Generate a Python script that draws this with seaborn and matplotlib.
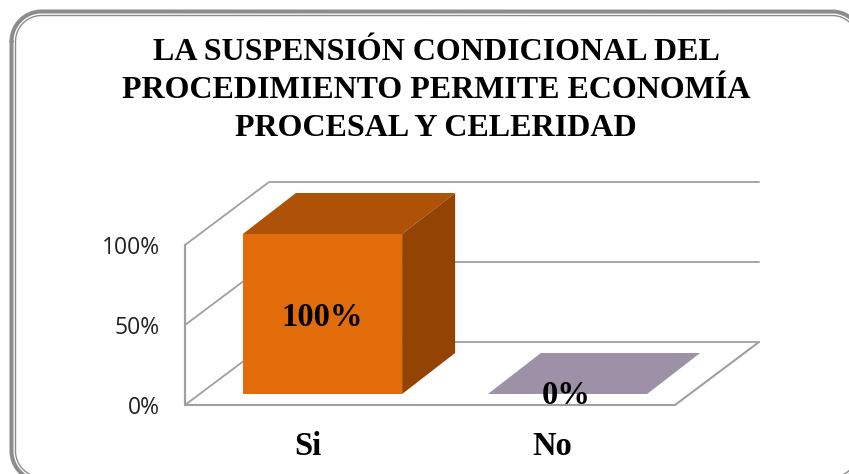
import matplotlib
matplotlib.use("Agg")
import matplotlib.pyplot as plt
from matplotlib.patches import Polygon
from matplotlib.transforms import Affine2D
import numpy as np
import seaborn as sns

categories = ["Si", "No"]
values = [100, 0]
value_labels = ["100%", "0%"]
y_ticks = [0, 50, 100]
y_tick_labels = ["0%", "50%", "100%"]
title = "LA SUSPENSIÓN CONDICIONAL DEL\nPROCEDIMIENTO PERMITE ECONOMÍA\nPROCESAL Y CELERIDAD"

W, H = 849, 474
GRID = "#A0A0A0"
FRAME = "#8C8C8C"
SERIF = "Liberation Serif"


def rounded_outline(x0, y0, x1, y1, r):
    # closed outline with circular corners, in pixels
    t = np.linspace(0, np.pi / 2, 40)
    xs = np.concatenate([x0 + r - r * np.cos(t), x1 - r + r * np.sin(t),
                         x1 - r + r * np.cos(t), x0 + r - r * np.sin(t)])
    ys = np.concatenate([y0 + r - r * np.sin(t), y0 + r - r * np.cos(t),
                         y1 - r + r * np.sin(t), y1 - r + r * np.cos(t)])
    return np.append(xs, xs[0]), np.append(ys, ys[0])


sns.set_theme(style="white")
fig = plt.figure(figsize=(W / 100, H / 100), dpi=100, facecolor="white")

# pixel canvas for the rounded frame
bg = fig.add_axes([0, 0, 1, 1])
bg.set_xlim(0, W)
bg.set_ylim(H, 0)
bg.axis("off")
bg.plot(*rounded_outline(11.5, 11.5, 862, 481, 30), color=FRAME, lw=2.9)
bg.plot(*rounded_outline(15.5, 15.5, 858, 477, 26), color=FRAME, lw=1.0)
bg.text(436, 90.5, title, ha="center", va="center", family=SERIF, weight="bold",
        fontsize=23, color="black", linespacing=1.39)

# main axes sit on the front plane of the 3d box
left, right, bottom, top = 185, 675, 405, 245
ax = fig.add_axes([left / W, 1 - bottom / H, (right - left) / W, (bottom - top) / H])
ax.patch.set_alpha(0)

sns.barplot(x=categories, y=values, width=0.65, ax=ax, color="#E36C0A", saturation=1,
            zorder=3, linewidth=0)
ax.set_xlim(-0.5, 1.5)
ax.set_ylim(0, 100)

# pixels to data units
px_x = 2 / (right - left)
px_y = 100 / (bottom - top)
depth_x, depth_y = 84 * px_x, 63 * px_y

# walls and gridlines
for t in y_ticks:
    ax.plot([-0.5, -0.5 + depth_x, 1.5 + depth_x], [t, t + depth_y, t + depth_y],
            color=GRID, lw=1.3, clip_on=False, zorder=1, solid_joinstyle="miter")
ax.plot([-0.5, -0.5], [0, 100], color=GRID, lw=1.6, clip_on=False, zorder=1)
ax.plot([-0.5, 1.5, 1.5 + depth_x], [0, 0, depth_y], color=GRID, lw=1.5, clip_on=False, zorder=1)

# bars are moved back on the floor, with top and side faces added
shift_x, shift_y = 15, 11
bar_dx, bar_dy = 53 * px_x, 41 * px_y
for bar, val, lab in zip(ax.patches, values, value_labels):
    x0 = bar.get_x() + shift_x * px_x
    x1 = x0 + bar.get_width()
    y0 = shift_y * px_y
    y1 = y0 + val
    bar.set_transform(ax.transData + Affine2D().translate(shift_x, shift_y))
    bar.set_clip_on(False)
    top_color = "#AD5206" if val > 0 else "#9C91A6"
    ax.add_patch(Polygon([(x0, y1), (x1, y1), (x1 + bar_dx, y1 + bar_dy), (x0 + bar_dx, y1 + bar_dy)],
                         fc=top_color, ec="none", clip_on=False, zorder=3))
    if val > 0:
        ax.add_patch(Polygon([(x1, y0), (x1, y1), (x1 + bar_dx, y1 + bar_dy), (x1 + bar_dx, y0 + bar_dy)],
                             fc="#934405", ec="none", clip_on=False, zorder=3))
        ax.text((x0 + x1) / 2, y0 + 48, lab, ha="center", va="center", family=SERIF,
                weight="bold", fontsize=23.5, color="black", zorder=5)
    else:
        ax.text((x0 + x1) / 2 - 1 * px_x, y1 - 1, lab, ha="center", va="center", family=SERIF,
                weight="bold", fontsize=23.5, color="black", zorder=5)

sns.despine(ax=ax, left=True, bottom=True)
ax.set_yticks(y_ticks)
ax.set_yticklabels(y_tick_labels, family="Open Sans", fontsize=16.5, color="#222222")
ax.set_xticks(range(len(categories)))
ax.set_xticklabels(categories, family=SERIF, weight="bold", fontsize=23.5, color="black")
ax.tick_params(axis="y", length=0, pad=18)
ax.tick_params(axis="x", length=0, pad=19)
ax.set_xlabel("")
ax.set_ylabel("")

fig.savefig("out.png", dpi=100)
